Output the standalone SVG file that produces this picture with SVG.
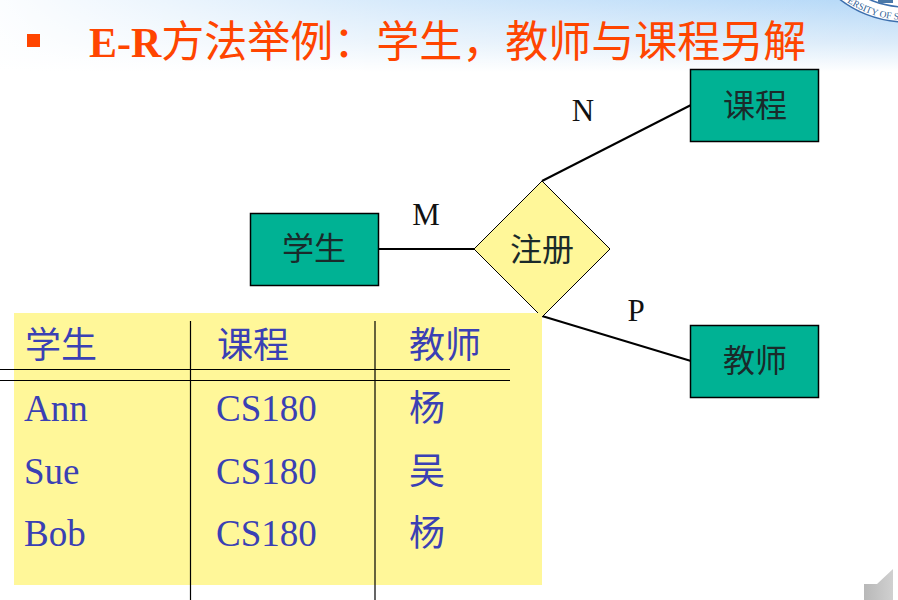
<svg xmlns="http://www.w3.org/2000/svg" width="898" height="600" viewBox="0 0 898 600">
<style>
.s{font-family:"Liberation Serif","Noto Sans CJK SC",serif}
.t{font-size:43px;fill:#ff4500}
.n{font-size:32px;fill:#1a2a2a;text-anchor:middle}
.l{font-size:31px;fill:#111;text-anchor:middle}
.c{font-size:37px;fill:#3a40b4}
.box{fill:#00b294;stroke:#000;stroke-width:1.5}
.ln{stroke:#000;fill:none}
</style>
<defs>
<linearGradient id="bg" x1="0" y1="0" x2="0" y2="1"><stop offset="0" stop-color="#b4d8f8"/><stop offset="0.6" stop-color="#dcecfa"/><stop offset="1" stop-color="#fff"/></linearGradient>
<linearGradient id="bg2" x1="0" y1="0" x2="1" y2="0"><stop offset="0" stop-color="#fff" stop-opacity=".95"/><stop offset="0.45" stop-color="#fff" stop-opacity=".45"/><stop offset="1" stop-color="#fff" stop-opacity="0"/></linearGradient>
<linearGradient id="sp" x1="0" y1="0" x2="1" y2="0"><stop offset="0" stop-color="#b8b8b8"/><stop offset="1" stop-color="#d0d0d0"/></linearGradient>
<path id="arc" d="M800 -86A106 106 0 0 0 1012 -86"/>
</defs>
<rect width="898" height="600" fill="#fff"/>
<rect width="898" height="72" fill="url(#bg)"/>
<rect width="898" height="72" fill="url(#bg2)"/>
<g id="logo">
<circle cx="906" cy="-86" r="108" fill="#fff" stroke="#3c6fae" stroke-width="1.5"/>
<circle cx="906" cy="-86" r="93" fill="#fff" stroke="#3c6fae" stroke-width="1.5"/>
<rect x="878" y="0" width="15" height="3" fill="#4a78a8"/>
<text class="s" font-size="9.500" fill="#2f5f96"><textPath href="#arc" startOffset="80">UNIVERSITY OF SCIE</textPath></text>
</g>
<g id="title">
<rect x="27" y="34" width="13" height="13" fill="#ff4500"/>
<text class="s t" x="89" y="57"><tspan font-weight="bold" font-size="42">E-R</tspan>方法举例：学生，教师与课程另解</text>
</g>
<g id="connectors">
<path class="ln" stroke-width="2" d="M379 249H474"/>
<path class="ln" stroke-width="2" d="M542 181L691 105"/>
<path class="ln" stroke-width="2" d="M542 316L691 361"/>
</g>
<g id="student"><rect class="box" x="250.500" y="213.500" width="128" height="72"/><text class="s n" x="314" y="260">学生</text></g>
<g id="course"><rect class="box" x="690.500" y="69.500" width="128" height="72"/><text class="s n" x="755" y="117">课程</text></g>
<g id="teacher"><rect class="box" x="690.500" y="325.500" width="128" height="72"/><text class="s n" x="755" y="372">教师</text></g>
<g id="enroll"><path d="M542 181L610 249L542 317L474 249Z" fill="#fff799" stroke="#000" stroke-width="1"/><text class="s n" x="542" y="261">注册</text></g>
<g id="labels">
<text class="s l" x="583" y="121">N</text>
<text class="s l" x="426" y="225">M</text>
<text class="s l" x="636" y="321">P</text>
</g>
<g id="table">
<rect x="14" y="313" width="528" height="272" fill="#fff799"/>
<path class="ln" stroke-width="1.2" d="M0 369.500H510M0 380.500H510M190.500 321V600M375 321V600"/>
<g class="s c">
<text x="25" y="358" font-size="36">学生</text><text x="217" y="358" font-size="36">课程</text><text x="409" y="358" font-size="36">教师</text>
<text x="24" y="421">Ann</text><text x="216" y="421">CS180</text><text x="409" y="421" font-size="36">杨</text>
<text x="24" y="484">Sue</text><text x="216" y="484">CS180</text><text x="409" y="484" font-size="36">吴</text>
<text x="24" y="546">Bob</text><text x="216" y="546">CS180</text><text x="409" y="546" font-size="36">杨</text>
</g>
</g>
<path id="speaker" d="M864 584H877L893 569V600H864Z" fill="url(#sp)"/>
</svg>
